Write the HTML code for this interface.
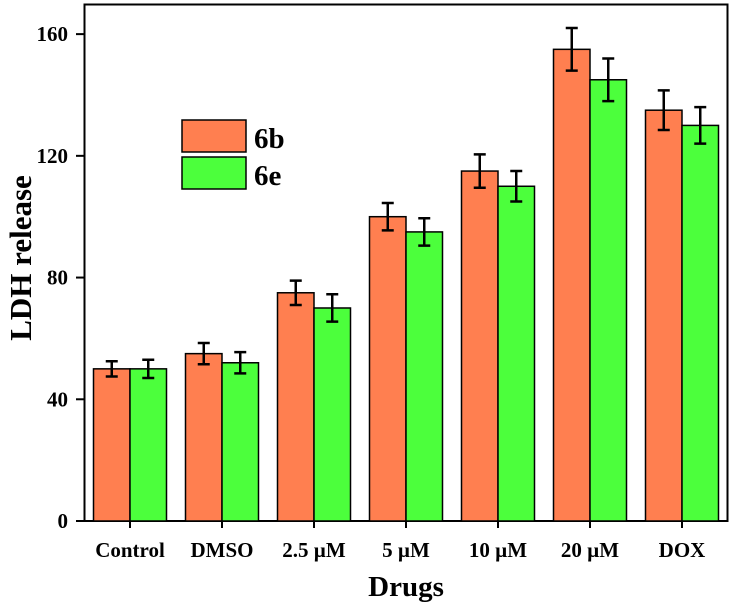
<!DOCTYPE html>
<html><head><meta charset="utf-8"><style>
body{margin:0;background:#fff}
svg text{font-family:"Liberation Serif",serif;font-weight:bold;fill:#000}
</style></head><body>
<svg id="chart" width="732" height="607">
<rect x="84.5" y="4.5" width="643" height="516.5" fill="none" stroke="#000" stroke-width="2"/>
<g id="bars"></g>
<g id="axes"></g>
<rect x="182" y="120" width="64" height="32" fill="#ff7f50" stroke="#000" stroke-width="1.5"/>
<text x="254" y="148" font-size="29">6b</text>
<rect x="182" y="157" width="64" height="32" fill="#4cff3c" stroke="#000" stroke-width="1.5"/>
<text x="254" y="185" font-size="29">6e</text>
<text x="406" y="596" font-size="29" text-anchor="middle">Drugs</text>
<text transform="translate(31,258) rotate(-90)" font-size="31" text-anchor="middle">LDH release</text>
</svg>
<script>
const categories=["Control","DMSO","2.5 µM","5 µM","10 µM","20 µM","DOX"];
const values6b=[50,55,75,100,115,155,135];
const values6e=[50,52,70,95,110,145,130];
const err6b=[2.5,3.5,4,4.5,5.5,7,6.5];
const err6e=[3,3.5,4.5,4.5,5,7,6];
const yTicks=[0,40,80,120,160];
const NS="http://www.w3.org/2000/svg";
const y=v=>521-v*3.043;
const xc=i=>130+i*92;
const bw=36.5;
const bars=document.getElementById('bars'),axes=document.getElementById('axes');
function mk(tag,at,parent){const e=document.createElementNS(NS,tag);for(const k in at)e.setAttribute(k,at[k]);parent.appendChild(e);return e;}
function bar(i,v,e,left,color,name){
  const x0=left?xc(i)-bw:xc(i);
  const r=mk('rect',{x:x0,y:y(v),width:bw,height:521-y(v),fill:color,stroke:'#000','stroke-width':1.5},bars);
  
  
  const cx=x0+bw/2;
  const g=mk('path',{d:`M${cx},${y(v+e)}V${y(v-e)}M${cx-6},${y(v+e)}H${cx+6}M${cx-6},${y(v-e)}H${cx+6}`,stroke:'#000','stroke-width':2.5,fill:'none'},bars);
  
  
}
categories.forEach((c,i)=>{
  bar(i,values6b[i],err6b[i],true,'#ff7f50','bar-6b-'+i);
  bar(i,values6e[i],err6e[i],false,'#4cff3c','bar-6e-'+i);
  const t=mk('line',{x1:xc(i),x2:xc(i),y1:521,y2:528,stroke:'#000','stroke-width':2},axes);
  
  
  const l=mk('text',{x:xc(i),y:557,'font-size':21,'text-anchor':'middle'},axes);
  l.textContent=c;
  
  
});
yTicks.forEach(v=>{
  const t=mk('line',{x1:76,x2:85,y1:y(v),y2:y(v),stroke:'#000','stroke-width':2},axes);
  
  
  const l=mk('text',{x:68,y:y(v)+7,'font-size':21,'text-anchor':'end'},axes);
  l.textContent=v;
  
  
});
</script>
</body></html>
